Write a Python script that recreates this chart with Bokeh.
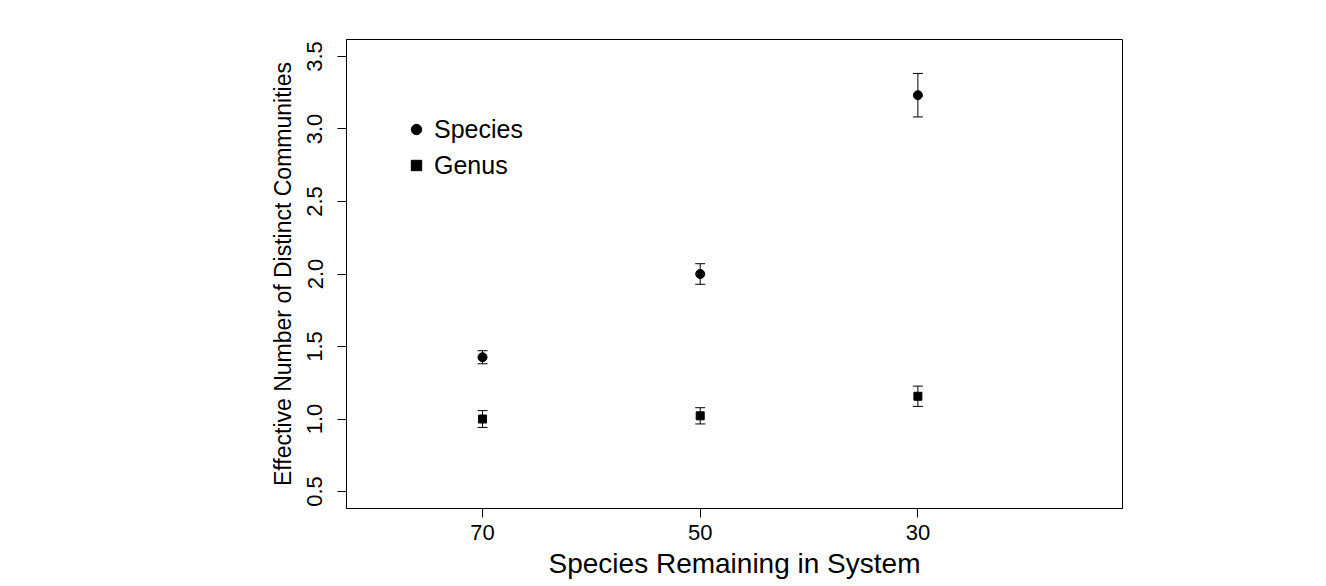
from bokeh.plotting import figure
from bokeh.models import (ColumnDataSource, Range1d, FixedTicker, PrintfTickFormatter,
                          Whisker, TeeHead, Legend, LegendItem)
from bokeh.embed import file_html
from bokeh.resources import INLINE

# ---- data ----
remaining = [70, 50, 30]
species_mean = [1.426, 2.00, 3.233]
species_err = [0.045, 0.071, 0.150]
genus_mean = [1.00, 1.022, 1.157]
genus_err = [0.058, 0.056, 0.070]
y_ticks = [0.5, 1.0, 1.5, 2.0, 2.5, 3.0, 3.5]
x_ticks = [70, 50, 30]

FONT = "Liberation Sans"

sp = ColumnDataSource(dict(x=remaining, y=species_mean,
                           lo=[m - e for m, e in zip(species_mean, species_err)],
                           hi=[m + e for m, e in zip(species_mean, species_err)]))
ge = ColumnDataSource(dict(x=remaining, y=genus_mean,
                           lo=[m - e for m, e in zip(genus_mean, genus_err)],
                           hi=[m + e for m, e in zip(genus_mean, genus_err)]))

p = figure(width=1326, height=586, output_backend="svg", toolbar_location=None,
           x_range=Range1d(82.5, 11.2), y_range=Range1d(0.383, 3.617),
           min_border_left=346, min_border_right=204, min_border_top=39, min_border_bottom=78,
           background_fill_color="white", border_fill_color="white")

p.grid.visible = False
p.outline_line_color = "black"
p.outline_line_width = 1

for ax in (p.xaxis[0], p.yaxis[0]):
    ax.axis_line_color = "black"
    ax.major_tick_in = 0
    ax.major_tick_out = 9
    ax.major_tick_line_color = "black"
    ax.minor_tick_line_color = None
    ax.major_label_text_font = FONT
    ax.major_label_text_font_size = "22px"
    ax.major_label_text_color = "black"
    ax.axis_label_text_font = FONT
    ax.axis_label_text_font_size = "23px"
    ax.axis_label_text_font_style = "normal"
    ax.axis_label_text_color = "black"

p.xaxis.ticker = FixedTicker(ticks=x_ticks)
p.xaxis.formatter = PrintfTickFormatter(format="%d")
p.xaxis.axis_label = "Species Remaining in System"
p.xaxis.axis_label_text_font_size = "28px"
p.xaxis.major_label_standoff = 7
p.xaxis.axis_label_standoff = 5

p.yaxis.ticker = FixedTicker(ticks=y_ticks)
p.yaxis.formatter = PrintfTickFormatter(format="%.1f")
p.yaxis.major_label_orientation = "vertical"
p.yaxis.axis_label = "Effective Number of Distinct Communities"
p.yaxis.major_label_standoff = 15
p.yaxis.axis_label_standoff = 9

for src in (sp, ge):
    p.add_layout(Whisker(base="x", lower="lo", upper="hi", source=src,
                         line_color="black", line_width=1,
                         lower_head=TeeHead(size=10, line_color="black", line_width=1),
                         upper_head=TeeHead(size=10, line_color="black", line_width=1)))

r_sp = p.scatter("x", "y", source=sp, marker="circle", size=9,
                 fill_color="black", line_color="black")
r_ge = p.scatter("x", "y", source=ge, marker="square", size=8,
                 fill_color="black", line_color="black")

legend = Legend(items=[LegendItem(label="Species", renderers=[r_sp]),
                       LegendItem(label="Genus", renderers=[r_ge])],
                location=(57, 328), padding=0, margin=0, spacing=6,
                glyph_width=26, glyph_height=30, label_height=30, label_standoff=5,
                label_text_font=FONT, label_text_font_size="25px",
                label_text_color="black",
                border_line_color=None, background_fill_alpha=0)
p.add_layout(legend)

open("out.html", "w").write(file_html(p, INLINE))
